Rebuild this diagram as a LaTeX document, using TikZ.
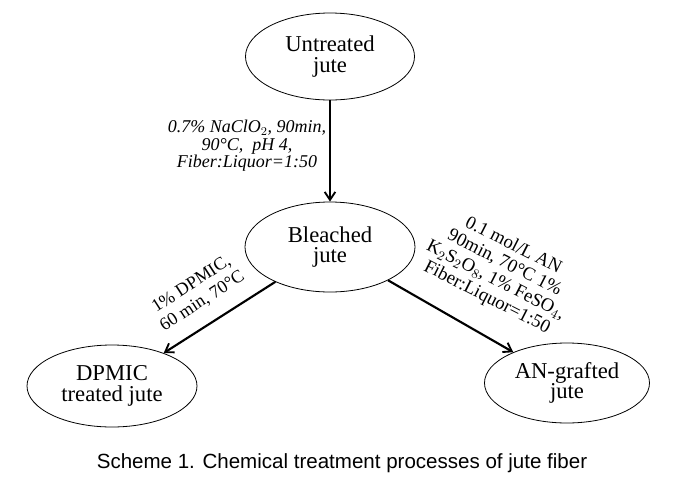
\documentclass[tikz,border=0pt]{standalone}
\usepackage{fontspec}
\setmainfont{Liberation Serif}
\newfontfamily\capfont{Liberation Sans}
\usetikzlibrary{shapes.geometric,arrows.meta}

\tikzset{
  stage/.style={ellipse, draw, line width=0.6pt, inner sep=0pt, align=center,
    font=\fontsize{17}{15.5}\selectfont},
  flow/.style={line width=1.6pt, -{Straight Barb[length=6pt,width=8pt,line width=1.4pt]}},
  cond/.style={inner sep=0.75pt, align=center, font=\fontsize{13.5}{15}\selectfont}
}

\begin{document}
\begin{tikzpicture}[x=0.75pt,y=0.75pt,yscale=-1,xscale=1]
\path[use as bounding box] (0,0) rectangle (676,483);

% Stages
\node [stage, minimum width=126.75pt, minimum height=65.25pt] (untreated) at (330,56.5) {Untreated\\jute};
\node [stage, minimum width=127.5pt, minimum height=67.5pt] (bleached) at (330,247) {Bleached\\jute};
\node [stage, minimum width=127.5pt, minimum height=61.5pt] (dpmic) at (112,386) {DPMIC\\treated jute};
\node [stage, minimum width=123.75pt, minimum height=60pt] (grafted) at (567,383) {AN-grafted\\jute};

% Treatments
\draw [flow] (untreated.south) -- (bleached.north);
\draw [flow] (bleached) -- (dpmic);
\draw [flow] (bleached) -- (grafted);

% Text Node
\node [cond, font=\fontsize{13.5}{13.25}\selectfont\itshape] (bleaching) at (247,146)
  {0.7\% NaClO$_2$, 90min,\\90°C,\ \ pH 4,\\Fiber:Liquor=1:50};
% Text Node
\node [cond, rotate=33] (dpmiccond) at (197,293) {1\% DPMIC,\\60 min, 70°C};
% Text Node
\node [cond, rotate=-27, font=\fontsize{14}{14.5}\selectfont] (graftcond) at (500,272)
  {0.1 mol/L AN\\90min, 70°C 1\%\\K$_2$S$_2$O$_8$, 1\% FeSO$_4$,\\Fiber:Liquor=1:50};
% Caption
\node [inner sep=0pt, font=\capfont\fontsize{15.4}{17}\selectfont] (caption) at (342,463)
  {Scheme 1. Chemical treatment processes of jute fiber};
\end{tikzpicture}
\end{document}
